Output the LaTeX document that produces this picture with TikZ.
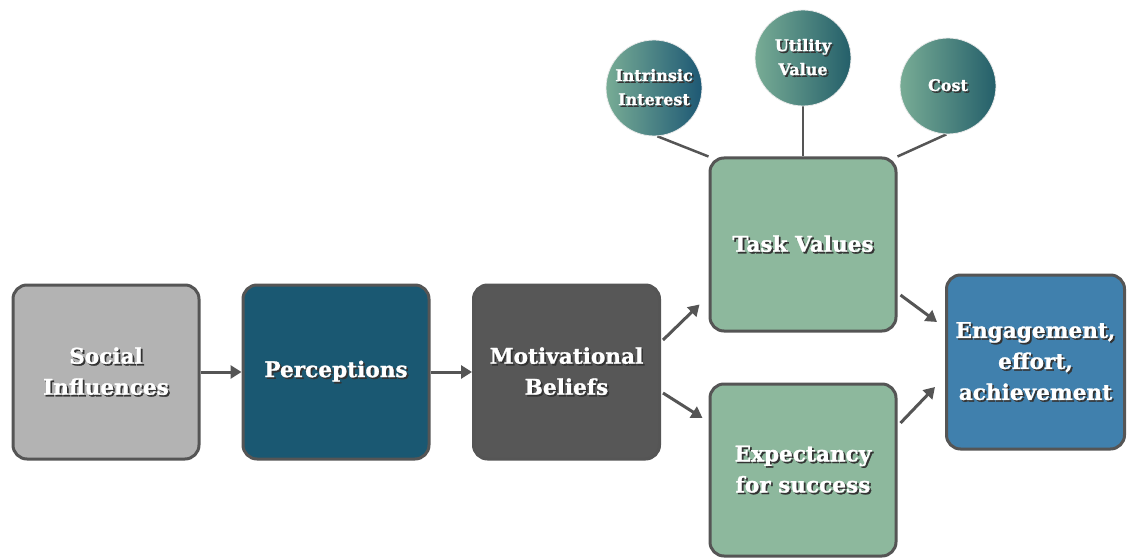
\documentclass[tikz,border=0pt]{standalone}
\usepackage{fontspec}
\setmainfont{DejaVu Serif}[BoldFeatures={FakeBold=1.2}]
\usetikzlibrary{arrows.meta,backgrounds}

% white label text with a dark drop shadow
\newcommand\shd[1]{\makebox[0pt][l]{\hspace{1.7pt}\raisebox{-1.7pt}{\color{black!80}#1}}#1}

\definecolor{edgegray}{HTML}{555555}
\definecolor{socfill}{HTML}{B3B3B3}
\definecolor{perfill}{HTML}{1A5872}
\definecolor{motfill}{HTML}{575757}
\definecolor{taskfill}{HTML}{8DB89D}
\definecolor{engfill}{HTML}{4080AD}
\definecolor{ballL}{HTML}{78AC95}
\definecolor{ballR}{HTML}{245F6A}
\definecolor{ballRb}{HTML}{1D5874}

\tikzset{
  box/.style={draw=edgegray, line width=3pt, rounded corners=14pt,
    minimum width=186pt, minimum height=174pt, align=center, text=white,
    font=\bfseries\fontsize{21.6}{31}\selectfont},
  ball/.style={circle, draw=white!85!gray, line width=0.8pt, minimum size=96pt,
    inner sep=0pt, align=center, text=white, left color=ballL, right color=ballR,
    font=\bfseries\fontsize{16}{24}\selectfont},
  flow/.style={draw=edgegray, line width=3pt, -{Triangle[length=11pt,width=13pt]}},
  spoke/.style={draw=edgegray, line width=2.5pt},
}

\begin{document}
\begin{tikzpicture}[x=1pt,y=-1pt]
\path[use as bounding box] (0,0) rectangle (1128,559);

% main chain
\node[box, fill=socfill] (soc) at (106,372) {\shd{Social}\\\shd{Influences}};
\node[box, fill=perfill] (per) at (336,372) {\shd{Perceptions}};
\node[box, fill=motfill] (mot) at (566.5,372) {\shd{Motivational}\\\shd{Beliefs}};
\node[box, fill=taskfill, minimum height=173pt] (task) at (803,244.5) {\shd{Task Values}};
\node[box, fill=taskfill, minimum height=172pt] (exp) at (803,470) {\shd{Expectancy}\\\shd{for success}};
\node[box, fill=engfill, minimum width=178pt] (eng) at (1035.5,362) {\shd{Engagement,}\\\shd{effort,}\\\shd{achievement}};

% components of task value
\node[ball, right color=ballRb] (int) at (654,88) {\shd{Intrinsic}\\\shd{Interest}};
\node[ball] (util) at (803,58) {\shd{Utility}\\\shd{Value}};
\node[ball] (cost) at (948,86) {\shd{Cost}};

\begin{scope}[on background layer]
  \draw[spoke] (int.-86) -- (task.north west);
  \draw[spoke] (util.south) -- (task.north);
  \draw[spoke] (cost.-92) -- (task.north east);
\end{scope}

% arrows
\draw[flow] (soc) -- (per);
\draw[flow] (per) -- (mot);
\draw[flow] ([xshift=2pt,yshift=32pt]mot.east) -- ([xshift=-9pt,yshift=-60pt]task.west);
\draw[flow] ([xshift=2pt,yshift=-21pt]mot.east) -- ([xshift=-6pt,yshift=52pt]exp.west);
\draw[flow] ([xshift=3pt,yshift=-50.5pt]task.east) -- ([xshift=-8pt,yshift=40pt]eng.west);
\draw[flow] ([xshift=3pt,yshift=47pt]exp.east) -- ([xshift=-10pt,yshift=-25pt]eng.west);
\end{tikzpicture}
\end{document}
